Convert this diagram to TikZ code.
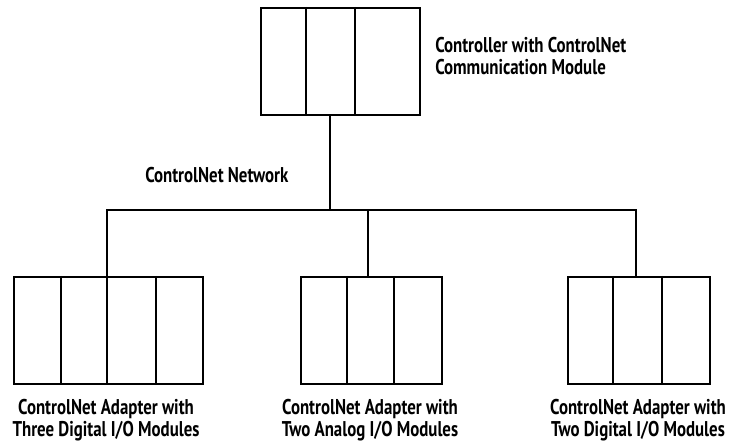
\documentclass[tikz,border=0pt]{standalone}
\usepackage{fontspec}
\setmainfont{PT Sans}[FakeStretch=0.79,UprightFont=* Bold]
\begin{document}
\begin{tikzpicture}[x=0.75pt,y=-0.75pt,
  rack/.style={draw=black,line width=1.6pt,minimum height=80.25pt,inner sep=0pt,anchor=north west},
  wire/.style={draw=black,line width=1.6pt},
  lbl/.style={font=\fontsize{16}{16.5}\selectfont,align=center,inner sep=0pt},
  note/.style={font=\fontsize{16}{16.5}\selectfont,align=left,inner sep=0pt,anchor=west}]
\useasboundingbox (0,0) rectangle (736,445);
% controller
\node[rack,minimum width=119.25pt] (ctl) at (260,7) {};
\draw[wire] (306,7) -- (306,114) (355,7) -- (355,114);
% adapters
\node[rack,minimum width=141.75pt] (a1) at (13,276) {};
\draw[wire] (61,276) -- (61,383) (107,276) -- (107,383) (156,276) -- (156,383);
\node[rack,minimum width=105.75pt] (a2) at (300,276) {};
\draw[wire] (347,276) -- (347,383) (394,276) -- (394,383);
\node[rack,minimum width=106.5pt] (a3) at (567,276) {};
\draw[wire] (613,276) -- (613,383) (662,276) -- (662,383);
% network
\coordinate (bc) at (330,210);
\coordinate (bl) at (107,210);
\coordinate (bm) at (368,210);
\coordinate (br) at (636,210);
\draw[wire] (ctl.south -| bc) -- (bc);
\draw[wire,line cap=rect] (bl) -- (br);
\draw[wire] (bl) -- (bl |- a1.north);
\draw[wire] (bm) -- (bm |- a2.north);
\draw[wire] (br) -- (br |- a3.north);
% labels
\node[note] (tctl) at (435,56) {Controller with ControlNet\\Communication Module};
\node[note,anchor=base west] (tnet) at (145,183) {ControlNet Network};
\node[lbl] (t1) at (106,420) {ControlNet Adapter with\\Three Digital I/O Modules};
\node[lbl] (t2) at (370,420) {ControlNet Adapter with\\Two Analog I/O Modules};
\node[lbl] (t3) at (638,420) {ControlNet Adapter with\\Two Digital I/O Modules};
\end{tikzpicture}
\end{document}
